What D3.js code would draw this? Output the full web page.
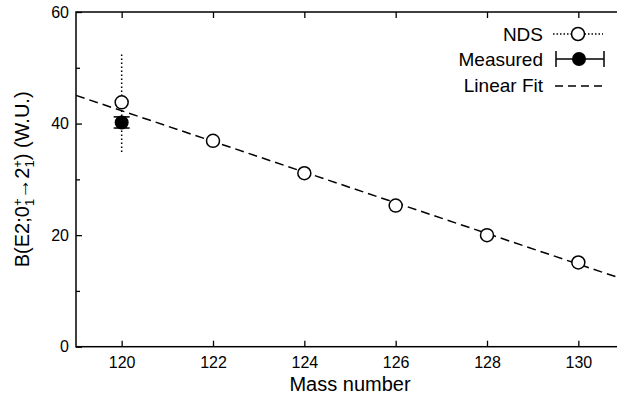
<!DOCTYPE html>
<html>
  <head>
    <meta charset="UTF-8" />
    <script src="https://cdn.jsdelivr.net/npm/d3@7/dist/d3.min.js"></script>
    <style>
      body { margin: 0; background: #fff; }
      svg { display: block; font-family: "Liberation Sans", Arial, sans-serif; }
      .axis path.domain { display: none; }
      .axis line { stroke: #000; stroke-width: 1.3; }
      .axis text { fill: #000; font-size: 16px; font-family: "Liberation Sans", Arial, sans-serif; }
    </style>
  </head>
  <body>
    <svg id="chart" width="617" height="403"></svg>
    <script>
      // NDS evaluated values (open circles)
      const ndsMass = [120, 122, 124, 126, 128, 130];
      const ndsB = [43.8, 36.9, 31.1, 25.3, 20.0, 15.1];
      const ndsErr = [8.9, 0, 0, 0, 0, 0];

      // this measurement
      const measMass = [120];
      const measB = [40.2];
      const measErr = [1.0];

      // linear fit, end points
      const fitMass = [119, 131];
      const fitB = [45.05, 12.05];

      const xTicks = [120, 122, 124, 126, 128, 130];
      const yTicks = [0, 20, 40, 60];
      const yMinor = [10, 30, 50];

      const svg = d3.select("#chart");
      const pLeft = 76, pTop = 12, pRight = 624, pBottom = 346.7;

      const x = d3.scaleLinear().domain([119, 131]).range([pLeft, pRight]);
      const y = d3.scaleLinear().domain([0, 60]).range([pBottom, pTop]);

      // axes, ticks pointing inward
      svg.append("g")
        .attr("class", "axis")
        .attr("transform", `translate(0,${pBottom})`)
        .call(d3.axisBottom(x).tickValues(xTicks).tickSizeInner(-6).tickSizeOuter(0).tickPadding(10));

      svg.append("g")
        .attr("class", "axis")
        .attr("transform", `translate(0,${pTop})`)
        .call(d3.axisTop(x).tickValues(xTicks).tickSizeInner(-6).tickSizeOuter(0).tickFormat(""));

      svg.append("g")
        .attr("class", "axis")
        .attr("transform", `translate(${pLeft},0)`)
        .call(d3.axisLeft(y).tickValues(yTicks).tickSizeInner(-6).tickSizeOuter(0).tickPadding(7));

      svg.append("g")
        .attr("class", "axis")
        .attr("transform", `translate(${pLeft},0)`)
        .call(d3.axisLeft(y).tickValues(yMinor).tickSizeInner(-4).tickSizeOuter(0).tickFormat(""));

      svg.append("rect")
        .attr("x", pLeft)
        .attr("y", pTop)
        .attr("width", pRight - pLeft)
        .attr("height", pBottom - pTop)
        .attr("fill", "none")
        .attr("stroke", "#000")
        .attr("stroke-width", 1.5);

      // axis titles
      svg.append("text")
        .attr("x", (pLeft + pRight) / 2)
        .attr("y", 391)
        .attr("text-anchor", "middle")
        .style("font-size", "20px")
        .text("Mass number");

      const yl = svg.append("text")
        .attr("transform", `translate(29,${(pTop + pBottom) / 2}) rotate(-90)`)
        .attr("text-anchor", "middle")
        .style("font-size", "20px");
      yl.append("tspan").text("B(E2;0");
      yl.append("tspan").attr("dy", -7).style("font-size", "13px").text("+");
      yl.append("tspan").attr("dx", -7.5).attr("dy", 12).style("font-size", "13px").text("1");
      yl.append("tspan").attr("dy", -5).text("\u2192");
      yl.append("tspan").text("2");
      yl.append("tspan").attr("dy", -7).style("font-size", "13px").text("+");
      yl.append("tspan").attr("dx", -7.5).attr("dy", 12).style("font-size", "13px").text("1");
      yl.append("tspan").attr("dy", -5).text(") (W.U.)");

      const plot = svg.append("g");

      // NDS error bars (dotted)
      plot.selectAll(".nds-err")
        .data(ndsMass.map((m, i) => ({ m, b: ndsB[i], e: ndsErr[i] })).filter(d => d.e > 0))
        .join("line")
        .attr("x1", d => x(d.m)).attr("x2", d => x(d.m))
        .attr("y1", d => y(d.b - d.e)).attr("y2", d => y(d.b + d.e))
        .attr("stroke", "#000")
        .attr("stroke-width", 1.5)
        .attr("stroke-dasharray", "1.5,2.5");

      // measured error bars with caps
      const meas = measMass.map((m, i) => ({ m, b: measB[i], e: measErr[i] }));
      meas.forEach(d => {
        const g = plot.append("g").attr("stroke", "#000").attr("stroke-width", 1.5);
        g.append("line").attr("x1", x(d.m)).attr("x2", x(d.m))
          .attr("y1", y(d.b - d.e)).attr("y2", y(d.b + d.e));
        [d.b - d.e, d.b + d.e].forEach(v => {
          g.append("line").attr("x1", x(d.m) - 8).attr("x2", x(d.m) + 8)
            .attr("y1", y(v)).attr("y2", y(v));
        });
      });

      // linear fit
      plot.append("path")
        .datum(fitMass.map((m, i) => [m, fitB[i]]))
        .attr("d", d3.line().x(d => x(d[0])).y(d => y(d[1])))
        .attr("fill", "none")
        .attr("stroke", "#000")
        .attr("stroke-width", 1.5)
        .attr("stroke-dasharray", "9,5");

      // points
      plot.selectAll(".nds")
        .data(ndsMass.map((m, i) => ({ m, b: ndsB[i] })))
        .join("circle")
        .attr("cx", d => x(d.m))
        .attr("cy", d => y(d.b))
        .attr("r", 6.5)
        .attr("fill", "#fff")
        .attr("stroke", "#000")
        .attr("stroke-width", 1.5);

      plot.selectAll(".meas")
        .data(meas)
        .join("circle")
        .attr("cx", d => x(d.m))
        .attr("cy", d => y(d.b))
        .attr("r", 7)
        .attr("fill", "#000");

      // legend
      const legend = svg.append("g").style("font-size", "19px");
      const rows = [
        { label: "NDS", cy: 34 },
        { label: "Measured", cy: 59 },
        { label: "Linear Fit", cy: 85 }
      ];
      legend.selectAll("text")
        .data(rows)
        .join("text")
        .attr("x", 543)
        .attr("y", d => d.cy + 7)
        .attr("text-anchor", "end")
        .text(d => d.label);

      legend.append("line")
        .attr("x1", 553).attr("x2", 603).attr("y1", 34).attr("y2", 34)
        .attr("stroke", "#000").attr("stroke-width", 1.3).attr("stroke-dasharray", "1.5,2");
      legend.append("circle")
        .attr("cx", 578).attr("cy", 34).attr("r", 6.5)
        .attr("fill", "#fff").attr("stroke", "#000").attr("stroke-width", 1.5);

      const lm = legend.append("g").attr("stroke", "#000").attr("stroke-width", 1.5);
      lm.append("line").attr("x1", 556).attr("x2", 604).attr("y1", 59).attr("y2", 59);
      lm.append("line").attr("x1", 556).attr("x2", 556).attr("y1", 51).attr("y2", 67);
      lm.append("line").attr("x1", 604).attr("x2", 604).attr("y1", 51).attr("y2", 67);
      legend.append("circle")
        .attr("cx", 579).attr("cy", 59).attr("r", 7).attr("fill", "#000");

      legend.append("line")
        .attr("x1", 555).attr("x2", 602).attr("y1", 86).attr("y2", 86)
        .attr("stroke", "#000").attr("stroke-width", 1.5).attr("stroke-dasharray", "8,5");
    </script>
  </body>
</html>
